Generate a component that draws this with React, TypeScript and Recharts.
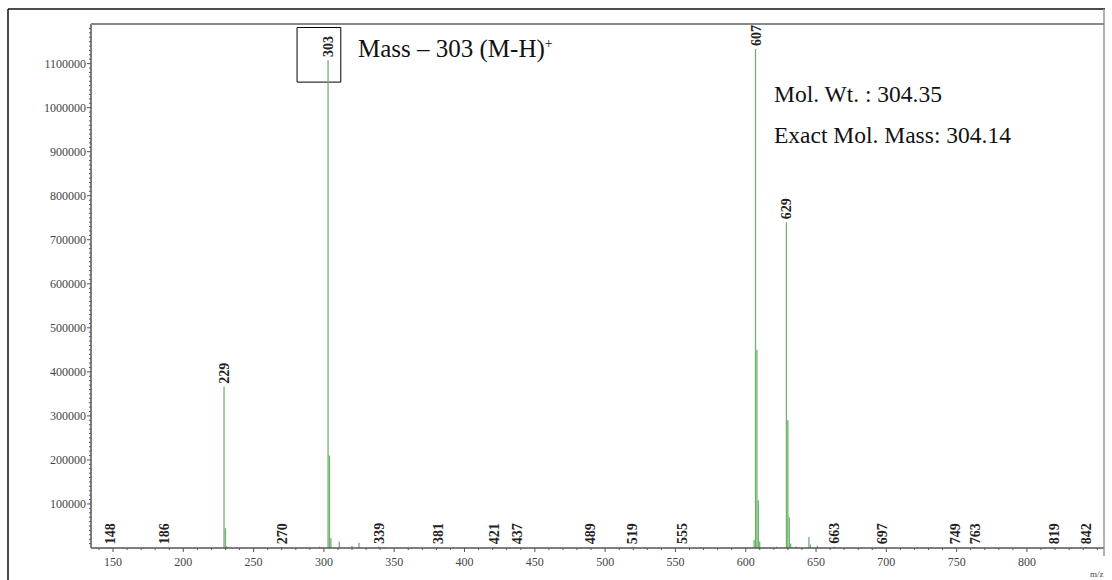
import { ComposedChart, Bar, XAxis, YAxis, LabelList, ReferenceArea } from 'recharts';

// m/z of each peak and its intensity (counts)
const mzValues = [
  148, 186, 229, 230, 231, 270, 297, 303, 304, 305, 311, 320, 325, 339, 343, 381, 421, 437, 489,
  519, 555, 606, 607, 608, 609, 610, 622, 629, 630, 631, 632, 636, 645, 646, 651, 663, 697, 749,
  763, 819, 842,
];
const intensities = [
  2000, 2000, 366000, 45000, 4000, 2000, 3000, 1108000, 210000, 22000, 15000, 5000, 12000, 3000,
  2000, 2000, 2000, 2000, 2000, 2000, 2000, 18000, 1133000, 450000, 108000, 15000, 3000, 740000,
  290000, 70000, 10000, 4000, 25000, 8000, 5000, 3000, 2000, 2000, 2000, 2000, 2000,
];
const labeledPeaks = [
  148, 186, 229, 270, 303, 339, 381, 421, 437, 489, 519, 555, 607, 629, 663, 697, 749, 763, 819, 842,
];

const xMajorTicks = [150, 200, 250, 300, 350, 400, 450, 500, 550, 600, 650, 700, 750, 800];
const yMajorTicks = [
  100000, 200000, 300000, 400000, 500000, 600000, 700000, 800000, 900000, 1000000, 1100000,
];

// minor tick marks (every 10 m/z, every 10000 counts)
const xTicks: number[] = [];
for (let v = 140; v <= 850; v += 10) xTicks.push(v);
const yTicks: number[] = [];
for (let v = 10000; v <= 1180000; v += 10000) yTicks.push(v);

const data = mzValues.map((mz, i) => ({
  mz,
  intensity: intensities[i],
  label: labeledPeaks.includes(mz) ? String(mz) : '',
}));

const SERIF = '"Liberation Serif", "Times New Roman", serif';
const GREEN = '#6cb06c';
const AXIS = '#555';

const XTick = (props: any) => {
  const { x, y, payload } = props;
  const major = xMajorTicks.includes(payload.value);
  return (
    <g>
      <line x1={x} x2={x} y1={y} y2={y + (major ? 4 : 2)} stroke={AXIS} strokeWidth={1} />
      {major && (
        <text x={x} y={y + 18} textAnchor="middle" fontFamily={SERIF} fontSize={12} fill="#444">
          {payload.value}
        </text>
      )}
    </g>
  );
};

const YTick = (props: any) => {
  const { x, y, payload } = props;
  const major = yMajorTicks.includes(payload.value);
  return (
    <g>
      <line x1={x} x2={x - (major ? 4 : 2)} y1={y} y2={y} stroke={AXIS} strokeWidth={1} />
      {major && (
        <text x={x - 5} y={y} dy="0.35em" textAnchor="end" fontFamily={SERIF} fontSize={12} fill="#444">
          {payload.value}
        </text>
      )}
    </g>
  );
};

const PeakLabel = (props: any) => {
  const { x, y, width, value } = props;
  if (!value) return null;
  const cx = Number(x) + Number(width) / 2;
  const ty = Number(y) - 3;
  return (
    <text
      x={cx}
      y={ty}
      dy="0.36em"
      transform={`rotate(-90 ${cx} ${ty})`}
      textAnchor="start"
      fontFamily={SERIF}
      fontWeight="bold"
      fontSize={14}
      fill="#222"
    >
      {value}
    </text>
  );
};

export default function App() {
  return (
    <div style={{ position: 'absolute', left: 0, top: 0, width: 1112, height: 580, background: '#fff' }}>
      <ComposedChart width={1112} height={580} data={data} margin={{ top: 24, right: 8, bottom: 0, left: 0 }}>
        <XAxis
          dataKey="mz"
          type="number"
          domain={[134.35, 854.8]}
          ticks={xTicks}
          interval={0}
          tick={<XTick />}
          tickLine={false}
          tickSize={0}
          tickMargin={0}
          height={32}
          axisLine={{ stroke: AXIS, strokeWidth: 1.5 }}
          allowDataOverflow
        />
        <YAxis
          type="number"
          domain={[0, 1190000]}
          ticks={yTicks}
          interval={0}
          tick={<YTick />}
          tickLine={false}
          tickSize={0}
          tickMargin={0}
          width={91}
          axisLine={{ stroke: AXIS, strokeWidth: 1.5 }}
          allowDataOverflow
        />
        <ReferenceArea
          x1={280.9}
          x2={312}
          y1={1058000}
          y2={1182000}
          fill="none"
          stroke="#000"
          strokeWidth={1}
          ifOverflow="visible"
        />
        <Bar dataKey="intensity" fill={GREEN} barSize={2} isAnimationActive={false}>
          <LabelList dataKey="label" content={<PeakLabel />} />
        </Bar>
      </ComposedChart>
      <svg
        width={1112}
        height={580}
        style={{ position: 'absolute', left: 0, top: 0, pointerEvents: 'none' }}
      >
        <line x1={8} x2={1105} y1={9} y2={9} stroke="#111" strokeWidth={1.5} />
        <line x1={8} x2={8} y1={9} y2={580} stroke="#111" strokeWidth={1.5} />
        <line x1={1104} x2={1104} y1={9} y2={556} stroke="#999" strokeWidth={1.5} />
        <line x1={91} x2={1104} y1={24} y2={24} stroke="#888" strokeWidth={2} />
        <text x={358} y={57} fontFamily={SERIF} fontSize={25} fill="#111">
          Mass – 303 (M-H)
          <tspan dy={-9} fontSize={14}>+</tspan>
        </text>
        <text x={774} y={102} fontFamily={SERIF} fontSize={23.5} fill="#111">
          Mol. Wt. : 304.35
        </text>
        <text x={774} y={143} fontFamily={SERIF} fontSize={23.5} fill="#111">
          Exact Mol. Mass: 304.14
        </text>
        <text x={1090} y={577} fontFamily={SERIF} fontSize={9} fill="#444">
          m/z
        </text>
      </svg>
    </div>
  );
}
